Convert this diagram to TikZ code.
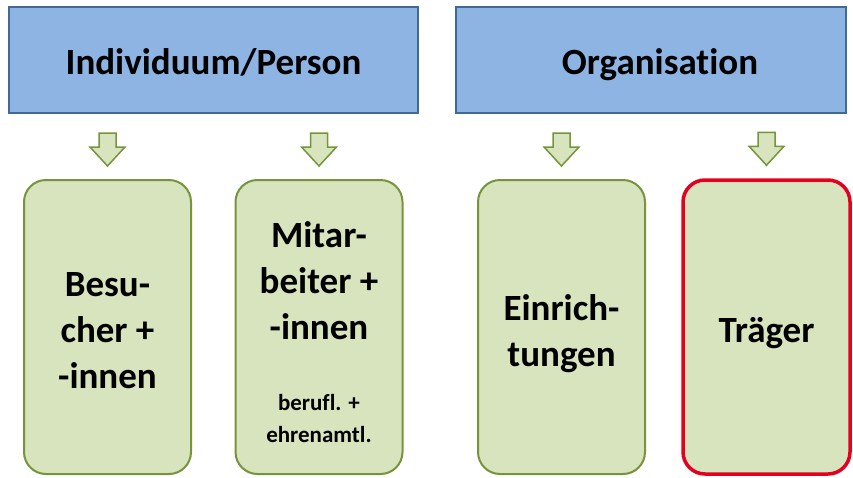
\documentclass[tikz,border=0pt]{standalone}
\usepackage{fontspec}
\setmainfont{Carlito}[Ligatures=NoCommon]
\usetikzlibrary{positioning}

\definecolor{headfill}{RGB}{142,180,227}
\definecolor{headline}{RGB}{65,105,150}
\definecolor{boxfill}{RGB}{215,228,189}
\definecolor{boxline}{RGB}{119,147,60}
\definecolor{arrowfill}{RGB}{215,228,189}
\definecolor{markred}{RGB}{228,0,30}

\tikzset{
  headbox/.style={draw=headline, fill=headfill, line width=2pt,
    minimum width=409pt, minimum height=106pt},
  headtext/.style={text height=26pt, text depth=9pt,
    font=\bfseries\fontsize{37}{44}\selectfont},
  groupbox/.style={draw=boxline, fill=boxfill, line width=2pt,
    rounded corners=22pt, minimum width=167pt, minimum height=294pt},
  boxtext/.style={align=center, font=\bfseries\fontsize{37}{46}\selectfont},
  smalltext/.style={align=center, font=\bfseries\fontsize{23}{32}\selectfont},
  blockarrow/.style={draw=boxline, fill=arrowfill, line width=1.5pt, line join=miter}
}

\begin{document}
\begin{tikzpicture}[x=1pt, y=-1pt]
  \useasboundingbox (0,0) rectangle (853,477);

  % header boxes
  \node[headbox] (person) at (213.5,60) {};
  \node[headbox, minimum width=390pt] (orga) at (651,60) {};
  \node[headtext] at ([shift={(0,5.5)}]person.center) {Individuum/Person};
  \node[headtext] at ([shift={(9,5.5)}]orga.center) {Organisation};

  % group boxes
  \node[groupbox] (besucher) at (107.5,327) {};
  \node[groupbox] (mitarbeiter) at (319,327) {};
  \node[groupbox] (einrichtungen) at (561.5,327) {};
  \node[groupbox, draw=markred, line width=3.5pt] (traeger) at (766.5,327) {};

  % texts in the group boxes
  \node[boxtext] (besuchertext) at (107.5,331) {Besu-\\cher +\\-innen};
  \node[boxtext] (mitarbeitertext) at (319,281) {Mitar-\\beiter +\\-innen};
  \node[smalltext, below=47pt of mitarbeitertext] (ehrenamt) {berufl. +\\ehrenamtl.};
  \node[boxtext] (einrichtungentext) at (561.5,334) {Einrich-\\tungen};
  \node[boxtext] (traegertext) at (766.5,333) {Tr\"ager};

  % arrows
  \foreach \b in {besucher, mitarbeiter, einrichtungen, traeger}
    \draw[blockarrow] ([shift={(-8.5,-46)}]\b.north) -- ++(17,0) -- ++(0,14) -- ++(9,0)
      -- ++(-17.5,19) -- ++(-17.5,-19) -- ++(9,0) -- cycle;
\end{tikzpicture}
\end{document}
